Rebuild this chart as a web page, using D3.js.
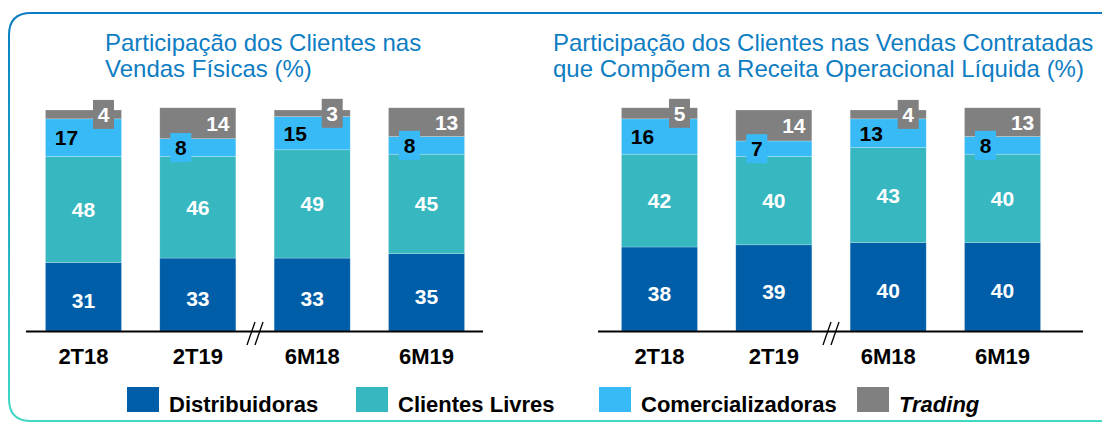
<!DOCTYPE html>
<html>
<head>
<meta charset="utf-8">
<script src="https://cdn.jsdelivr.net/npm/d3@7"></script>
<style>
  html, body { margin: 0; padding: 0; background: #fff; }
  svg { display: block; font-family: "Liberation Sans", Arial, sans-serif; }
</style>
</head>
<body>
<svg id="chart" width="1102" height="423"></svg>
<script>
const categories = ['2T18', '2T19', '6M18', '6M19'];
const seriesNames = ['Distribuidoras', 'Clientes Livres', 'Comercializadoras', 'Trading'];
const seriesColors = ['#005EA8', '#37B8C1', '#38BAF7', '#808080'];

// Vendas Físicas (%)
const fisDistribuidoras = [31, 33, 33, 35];
const fisClientesLivres = [48, 46, 49, 45];
const fisComercializadoras = [17, 8, 15, 8];
const fisTrading = [4, 14, 3, 13];

// Vendas Contratadas / Receita Operacional Líquida (%)
const recDistribuidoras = [38, 39, 40, 40];
const recClientesLivres = [42, 40, 43, 40];
const recComercializadoras = [16, 7, 13, 8];
const recTrading = [5, 14, 4, 13];

const svg = d3.select('#chart');

// rounded frame with gradient stroke
const defs = svg.append('defs');
const grad = defs.append('linearGradient')
    .attr('id', 'frame')
    .attr('gradientUnits', 'userSpaceOnUse')
    .attr('x1', 0).attr('y1', 12).attr('x2', 0).attr('y2', 421);
grad.append('stop').attr('offset', 0).attr('stop-color', '#0B7CC3');
grad.append('stop').attr('offset', 1).attr('stop-color', '#3FD9C6');

svg.append('path')
    .attr('d', 'M1104,13 H31 Q9,13 9,35 V399 Q9,421 31,421 H1104')
    .attr('fill', 'none')
    .attr('stroke', 'url(#frame)')
    .attr('stroke-width', 2);

const y = d3.scaleLinear().domain([0, 100]).range([331, 110]);

function drawPanel(opts) {
    const g = svg.append('g');
    const rows = categories.map((c, i) => ({
        cat: c,
        Distribuidoras: opts.values[0][i],
        'Clientes Livres': opts.values[1][i],
        Comercializadoras: opts.values[2][i],
        Trading: opts.values[3][i]
    }));

    const x = d3.scaleBand()
        .domain(categories)
        .range(opts.range)
        .paddingInner(0.335)
        .paddingOuter(0.17);

    const stacked = d3.stack().keys(seriesNames)(rows);

    // titles
    const title = g.append('text')
        .attr('x', opts.titleX)
        .attr('y', 51)
        .attr('fill', '#0F7DC2')
        .attr('font-size', '24px');
    opts.title.forEach((t, i) => {
        title.append('tspan')
            .attr('x', opts.titleX)
            .attr('dy', i === 0 ? 0 : 25.5)
            .text(t);
    });

    // bars
    stacked.forEach((layer, si) => {
        g.append('g')
            .selectAll('rect')
            .data(layer)
            .enter()
            .append('rect')
            .attr('x', d => x(d.data.cat))
            .attr('y', d => y(d[1]))
            .attr('width', x.bandwidth())
            .attr('height', d => y(d[0]) - y(d[1]))
            .attr('fill', seriesColors[si])
            .attr('stroke', '#ffffff')
            .attr('stroke-opacity', 0.35)
            .attr('stroke-width', 0.6);
    });

    // labels
    stacked.forEach((layer, si) => {
        layer.forEach(d => {
            const v = d[1] - d[0];
            let cy = (y(d[0]) + y(d[1])) / 2;
            let cx = x(d.data.cat) + x.bandwidth() / 2;
            let color = '#ffffff';
            if (si === 0) cy += 4;
            if (si === 2) { cx = x(d.data.cat) + 21; color = '#000000'; }
            if (si === 3) { cx = x(d.data.cat) + x.bandwidth() - 18; }
            if ((si === 2 || si === 3) && v < 10) {
                g.append('rect')
                    .attr('x', cx - 10.5)
                    .attr('y', cy - 14.5)
                    .attr('width', 21)
                    .attr('height', 29)
                    .attr('fill', seriesColors[si]);
            }
            g.append('text')
                .attr('x', cx)
                .attr('y', cy)
                .attr('dy', '0.36em')
                .attr('text-anchor', 'middle')
                .attr('font-weight', 'bold')
                .attr('font-size', '21px')
                .attr('fill', color)
                .text(v);
        });
    });

    // baseline
    g.append('line')
        .attr('x1', opts.axis[0]).attr('x2', opts.axis[1])
        .attr('y1', y(0) + 0.5).attr('y2', y(0) + 0.5)
        .attr('stroke', '#000').attr('stroke-width', 2);

    // axis break marks between 2T19 and 6M18
    const bx = (x('2T19') + x.bandwidth() + x('6M18')) / 2;
    [-4, 4].forEach(off => {
        g.append('line')
            .attr('x1', bx + off - 4).attr('y1', y(0) + 14)
            .attr('x2', bx + off + 4).attr('y2', y(0) - 9)
            .attr('stroke', '#000').attr('stroke-width', 1.3);
    });

    // category labels
    g.append('g')
        .selectAll('text')
        .data(categories)
        .enter()
        .append('text')
        .attr('x', d => x(d) + x.bandwidth() / 2)
        .attr('y', 364)
        .attr('text-anchor', 'middle')
        .attr('font-weight', 'bold')
        .attr('font-size', '22px')
        .attr('fill', '#000')
        .text(d => d);
}

drawPanel({
    values: [fisDistribuidoras, fisClientesLivres, fisComercializadoras, fisTrading],
    range: [26, 484],
    axis: [26, 483],
    titleX: 105,
    title: ['Participação dos Clientes nas', 'Vendas Físicas (%)']
});

drawPanel({
    values: [recDistribuidoras, recClientesLivres, recComercializadoras, recTrading],
    range: [602, 1060],
    axis: [598, 1083],
    titleX: 553,
    title: ['Participação dos Clientes nas Vendas Contratadas', 'que Compõem a Receita Operacional Líquida (%)']
});

// legend
const legendX = [127, 356, 599, 857];
const legend = svg.append('g');
seriesNames.forEach((name, i) => {
    legend.append('rect')
        .attr('x', legendX[i])
        .attr('y', 387)
        .attr('width', 32)
        .attr('height', 25)
        .attr('fill', seriesColors[i]);
    legend.append('text')
        .attr('x', legendX[i] + 42)
        .attr('y', 412)
        .attr('font-weight', 'bold')
        .attr('font-size', '22px')
        .attr('font-style', name === 'Trading' ? 'italic' : 'normal')
        .attr('fill', '#000')
        .text(name);
});
</script>
</body>
</html>
